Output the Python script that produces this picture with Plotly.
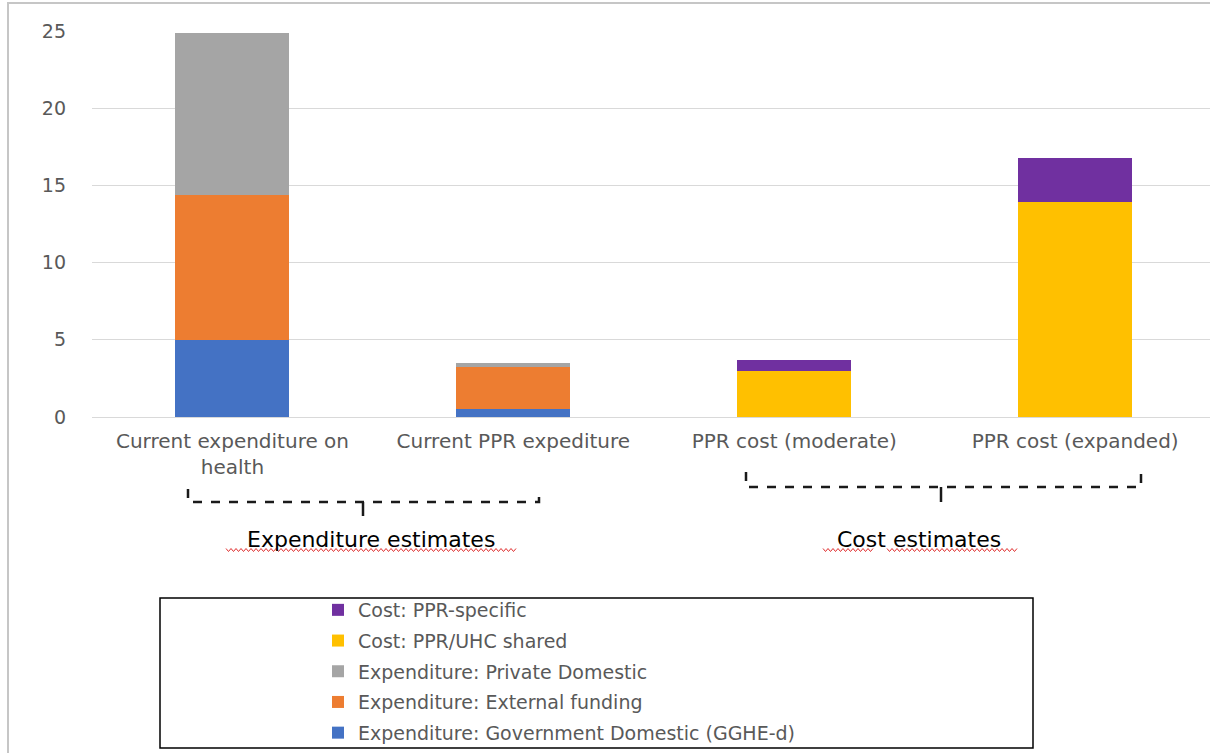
import plotly.graph_objects as go

# Categories along the x axis
categories = ["Current expenditure on<br>health", "Current PPR expediture",
              "PPR cost (moderate)", "PPR cost (expanded)"]

# Stacked series values (US$ billions)
gov_domestic = [5.0, 0.5, None, None]
external_funding = [9.4, 2.75, None, None]
private_domestic = [10.45, 0.25, None, None]
cost_shared = [None, None, 3.0, 13.95]
cost_specific = [None, None, 0.7, 2.85]

series_names = ["Expenditure: Government Domestic (GGHE-d)",
                "Expenditure: External funding",
                "Expenditure: Private Domestic",
                "Cost: PPR/UHC shared",
                "Cost: PPR-specific"]
series_values = [gov_domestic, external_funding, private_domestic,
                 cost_shared, cost_specific]
series_colors = ["#4472C4", "#ED7D31", "#A5A5A5", "#FFC000", "#7030A0"]

y_ticks = [0, 5, 10, 15, 20, 25]

W, H = 1210, 753
ML, MR, MT, MB = 92, 0, 31, 336
PW, PH = W - ML - MR, H - MT - MB

def px(x):
    return (x - ML) / PW

def py(y):
    return (H - MB - y) / PH

fig = go.Figure()
n = len(series_names)
for i, (name, vals, col) in enumerate(zip(series_names, series_values, series_colors)):
    fig.add_trace(go.Bar(x=categories, y=vals, name=name, marker_color=col,
                         marker_line_width=0, legendgroup=name,
                         legendrank=n - i))

shapes = []
# outer frame
shapes.append(dict(type="rect", xref="paper", yref="paper",
                   x0=px(8), x1=px(1216), y0=py(3), y1=py(760),
                   line=dict(color="#c6c6c6", width=2)))
# legend box
shapes.append(dict(type="rect", xref="paper", yref="paper",
                   x0=px(160), x1=px(1033), y0=py(598), y1=py(748),
                   line=dict(color="#000000", width=1.5)))

def brace(x0, x1, y, y_end, xc, y_tip):
    dash = dict(color="#1a1a1a", width=2.5, dash="dash")
    path = (f"M {px(x0)} {py(y_end)} L {px(x0)} {py(y)} L {px(x1)} {py(y)} "
            f"L {px(x1)} {py(y_end)}")
    shapes.append(dict(type="path", xref="paper", yref="paper", path=path,
                       line=dash))
    shapes.append(dict(type="line", xref="paper", yref="paper",
                       x0=px(xc), x1=px(xc), y0=py(y), y1=py(y_tip),
                       line=dict(color="#1a1a1a", width=2.5)))

brace(188, 539, 502, 489, 363, 516)
brace(746, 1141, 487, 472, 941, 502)

def squiggle(x0, x1, y):
    pts = []
    x = x0
    up = True
    while x <= x1:
        pts.append((x, y - 1.5 if up else y + 1.5))
        up = not up
        x += 2.5
    path = "M " + " L ".join(f"{px(a)} {py(b)}" for a, b in pts)
    shapes.append(dict(type="path", xref="paper", yref="paper", path=path,
                       line=dict(color="#e03030", width=1)))

squiggle(226, 518, 550)
squiggle(823, 873, 550)
squiggle(887, 1017, 550)

label_font = dict(family="DejaVu Sans", size=22, color="#000000")
annotations = [
    dict(text="Expenditure estimates", x=px(371), y=py(539), xref="paper",
         yref="paper", showarrow=False, xanchor="center", yanchor="middle",
         font=label_font),
    dict(text="Cost estimates", x=px(919), y=py(539), xref="paper",
         yref="paper", showarrow=False, xanchor="center", yanchor="middle",
         font=label_font),
]

fig.update_layout(
    width=W, height=H,
    margin=dict(l=ML, r=MR, t=MT, b=MB, pad=0, autoexpand=False),
    barmode="stack",
    bargap=0.594,
    plot_bgcolor="white", paper_bgcolor="white",
    shapes=shapes,
    annotations=annotations,
    showlegend=True,
    legend=dict(x=px(318), y=py(591), xanchor="left", yanchor="top",
                traceorder="grouped", tracegroupgap=3,
                font=dict(family="DejaVu Sans", size=19, color="#595959"),
                bgcolor="rgba(0,0,0,0)", borderwidth=0),
    xaxis=dict(range=[-0.5, 3.48], showgrid=False, showline=False, ticks="",
               ticklabelstandoff=10, automargin=False,
               tickfont=dict(family="DejaVu Sans", size=20, color="#595959")),
    yaxis=dict(range=[0, 25], tickvals=y_ticks, showgrid=True,
               gridcolor="#d9d9d9", gridwidth=1, zeroline=True,
               zerolinecolor="#d9d9d9", zerolinewidth=1, showline=False,
               ticklabelstandoff=25, automargin=False,
               tickfont=dict(family="DejaVu Sans", size=19, color="#595959")),
)

fig.write_html("out.html")
